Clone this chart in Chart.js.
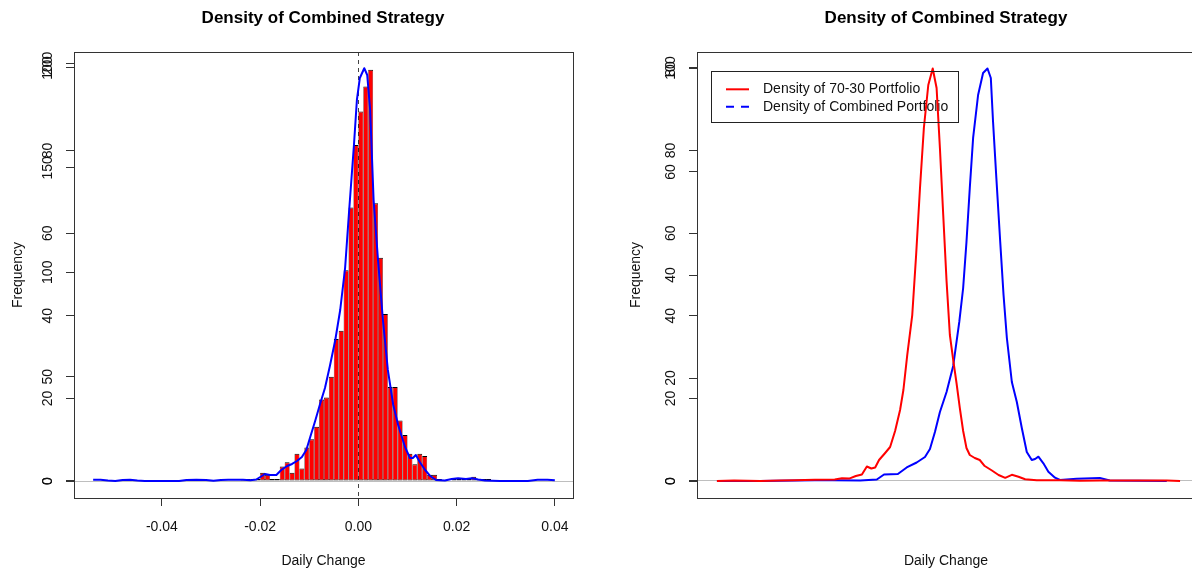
<!DOCTYPE html>
<html><head><meta charset="utf-8">
<script src="https://cdn.jsdelivr.net/npm/chart.js@4.4.1/dist/chart.umd.min.js"></script>
<style>
html,body{margin:0;padding:0;background:#fff;overflow:hidden;width:1192px;height:573px;position:relative}
canvas{position:absolute;top:0}
#cl{left:0;width:646px;height:573px}
#cr{left:596px;width:700px;height:573px}
</style></head><body>
<canvas id="cl" width="646" height="573"></canvas>
<canvas id="cr" width="700" height="573"></canvas>
<script>
// ---------- data ----------
const chartTitle = 'Density of Combined Strategy';
const xTitle = 'Daily Change';
const yTitle = 'Frequency';
const legendLabels = ['Density of 70-30 Portfolio', 'Density of Combined Portfolio'];

const xTickValues = [-0.04, -0.02, 0, 0.02, 0.04];
const countTicks = [0, 50, 100, 150, 200];
const densityTicks = [0, 20, 40, 60, 80, 100];
const portfolioTicks = [0, 20, 40, 60, 80];

// histogram: bin centres (bin width 0.001) and counts
const histBinCenters = [-0.0235,-0.0225,-0.0215,-0.0205,-0.0195,-0.0185,-0.0175,-0.0165,-0.0155,-0.0145,-0.0135,-0.0125,-0.0115,-0.0105,-0.0095,-0.0085,-0.0075,-0.0065,-0.0055,-0.0045,-0.0035,-0.0025,-0.0015,-0.0005,0.0005,0.0015,0.0025,0.0035,0.0045,0.0055,0.0065,0.0075,0.0085,0.0095,0.0105,0.0115,0.0125,0.0135,0.0145,0.0155,0.0165,0.0195,0.0205,0.0215,0.0225,0.0235,0.0245,0.0255,0.0265];
const histCounts = [1,1,1,1,4,3,1,1,7,9,4,13,6,16,20,26,39,40,50,68,72,101,131,161,177,189,197,133,107,80,45,45,29,22,13,8,13,12,3,3,1,1,1,1,1,2,1,1,1];

// density of combined strategy (left panel)
const leftDensX = [-0.0540,-0.0525,-0.0510,-0.0495,-0.0480,-0.0465,-0.0450,-0.0435,-0.0365,-0.0350,-0.0330,-0.0310,-0.0295,-0.0280,-0.0265,-0.0250,-0.0235,-0.0220,-0.0208,-0.0198,-0.0190,-0.0180,-0.0167,-0.0157,-0.0145,-0.0135,-0.0125,-0.0115,-0.0106,-0.0098,-0.0088,-0.0078,-0.0068,-0.0058,-0.0047,-0.0037,-0.0027,-0.0019,-0.0009,-0.0003,0.0003,0.0012,0.0018,0.0024,0.0031,0.0040,0.0050,0.0060,0.0071,0.0081,0.0095,0.0105,0.0111,0.0117,0.0125,0.0136,0.0146,0.0158,0.0176,0.0190,0.0203,0.0219,0.0231,0.0244,0.0258,0.0288,0.0345,0.0365,0.0385,0.0400];
const leftDensY = [0.3,0.3,0.1,0,0.25,0.3,0.1,0,0,0.25,0.3,0.25,0.05,0.25,0.3,0.3,0.3,0.2,0.36,1.09,1.69,1.45,1.45,2.66,3.63,4.12,4.84,5.81,7.51,10.65,14.53,18.64,22.52,27.85,34.14,41.4,51.57,65.13,81.36,92.25,97.58,99.93,98.3,89.83,68.04,53.51,38.98,26.88,18.4,13.56,8.23,5.57,5.57,6.3,4.6,2.66,1.21,0.24,0.1,0.5,0.65,0.5,0.65,0.36,0.1,0,0,0.3,0.3,0.2];

// right panel: 70-30 portfolio density (red) and combined portfolio density (blue)
const redX = [-0.0414,-0.0383,-0.0336,-0.0300,-0.0273,-0.0237,-0.0201,-0.0188,-0.0175,-0.0163,-0.0152,-0.0143,-0.0135,-0.0128,-0.0121,-0.0110,-0.0101,-0.0092,-0.0083,-0.0077,-0.0070,-0.0061,-0.0054,-0.0047,-0.0040,-0.0032,-0.0024,-0.0017,-0.0011,-0.0005,0.0001,0.0007,0.0013,0.0019,0.0025,0.0031,0.0037,0.0043,0.0052,0.0061,0.0070,0.0083,0.0095,0.0107,0.0119,0.0131,0.0143,0.0164,0.0206,0.0242,0.0278,0.0365,0.0399,0.0423];
const redY = [0,0.1,0,0.1,0.13,0.23,0.29,0.54,0.47,0.97,1.26,2.82,2.43,2.62,4.08,5.44,6.6,9.71,13.79,17.67,24.47,32.23,43.88,56.89,68.54,76.89,80.1,76.3,64.66,51.65,38.83,28.35,23.5,19.03,14.17,9.71,6.41,5.05,4.47,4.08,2.91,2.04,1.17,0.62,1.2,0.83,0.33,0.13,0.13,0.04,0.1,0.1,0.1,0];
const blueX = [-0.0414,-0.0336,-0.0237,-0.0206,-0.0155,-0.0125,-0.0112,-0.0087,-0.0071,-0.0053,-0.0038,-0.0029,-0.0020,-0.0011,0.0001,0.0013,0.0024,0.0031,0.0037,0.0043,0.0049,0.0058,0.0067,0.0075,0.0081,0.0085,0.0091,0.0098,0.0104,0.0110,0.0119,0.0128,0.0137,0.0146,0.0155,0.0161,0.0167,0.0176,0.0185,0.0197,0.0206,0.0236,0.0278,0.0296,0.0399];
const blueY = [0,0,0.17,0.17,0.12,0.36,1.57,1.69,3.27,4.48,5.81,7.75,11.86,16.71,21.55,27.85,38.5,46.73,57.87,70.94,83.05,93.46,98.79,99.88,97.58,87.05,73.37,57.87,45.04,34.62,23.97,19.13,12.83,7.02,5.08,5.33,5.88,4.28,2.25,0.8,0.24,0.56,0.73,0.12,0];

// ---------- helpers ----------
const FONT = "'Liberation Sans', Arial, Helvetica, sans-serif";
Chart.defaults.font.family = FONT;
Chart.defaults.font.size = 14;
Chart.defaults.color = '#111';

const pts = (xs, ys) => xs.map((x, i) => ({x, y: ys[i]}));

function makeOverlay(main, other) {
  return {
    id: 'overlay_' + other,
    afterLayout(chart) {
      const a = chart.scales[main], b = chart.scales[other];
      b.left = a.left; b.right = a.right; b.width = a.width;
    }
  };
}
const frameBox = {
  id: 'frameBox',
  afterDraw(chart) {
    const {ctx, chartArea: a} = chart;
    ctx.save();
    ctx.strokeStyle = '#333';
    ctx.lineWidth = 1;
    ctx.strokeRect(a.left + 0.5, a.top + 0.5, a.right - a.left, a.bottom - a.top);
    ctx.restore();
  }
};

function yAxis(o) {
  return {
    type: 'linear', position: 'left', min: o.min, max: o.max, bounds: 'data',
    afterBuildTicks: s => { s.ticks = o.ticks.map(v => ({value: v})); },
    afterFit: s => { s.width = o.width; },
    ticks: { autoSkip: false, minRotation: 90, maxRotation: 90, crossAlign: 'center',
             padding: o.pad, color: '#111', font: {size: 14}, callback: v => String(v) },
    grid: { drawOnChartArea: !!o.zeroLine,
            color: c => (c.tick && c.tick.value === 0) ? '#bebebe' : 'rgba(0,0,0,0)',
            tickColor: '#333', tickLength: 8, lineWidth: 1, tickWidth: 1 },
    border: { display: false },
    title: o.title ? { display: true, text: o.title, color: '#111', font: {size: 14},
                       padding: {top: o.titlePad, bottom: 0} } : { display: false }
  };
}
// invisible right-hand spacer axis (keeps the title centred on the full canvas)
function spacerAxis(w) {
  return {
    type: 'linear', position: 'right', min: 0, max: 1, display: true,
    afterFit: s => { s.width = w; },
    ticks: { display: false }, grid: { display: false }, border: { display: false }
  };
}
const titleOpts = { display: true, text: chartTitle, color: '#000',
  font: {size: 17, weight: 'bold'}, padding: {top: 8.5, bottom: 23.1} };

// ---------- left chart ----------
new Chart(document.getElementById('cl'), {
  type: 'bar',
  data: {
    datasets: [
      { type: 'line', label: 'Density', data: pts(leftDensX, leftDensY), yAxisID: 'yd', xAxisID: 'x',
        borderColor: '#0000ff', borderWidth: 2, pointRadius: 0, tension: 0, order: 0,
        borderJoinStyle: 'round' },
      { type: 'bar', label: 'Frequency', data: pts(histBinCenters, histCounts), yAxisID: 'yc', xAxisID: 'x',
        backgroundColor: '#ff0000', borderColor: '#000', borderSkipped: false,
        borderWidth: {top: 1, left: 0.5, right: 0.5, bottom: 1}, inflateAmount: 0,
        barPercentage: 1, categoryPercentage: 1, order: 1 }
    ]
  },
  options: {
    responsive: false, animation: false, devicePixelRatio: 1,
    layout: { padding: 0 },
    plugins: { legend: {display: false}, tooltip: {enabled: false}, title: titleOpts },
    scales: {
      x: {
        type: 'linear', min: -0.0579, max: 0.0437, bounds: 'data', offset: false,
        afterBuildTicks: s => { s.ticks = xTickValues.map(v => ({value: v})); },
        afterFit: s => { s.height = 75; },
        ticks: { autoSkip: false, maxRotation: 0, padding: 12.5, color: '#111', font: {size: 14},
                 callback: v => Number(v).toFixed(2) },
        grid: { offset: false, drawOnChartArea: true,
                color: c => (c.tick && c.tick.value === 0) ? '#444' : 'rgba(0,0,0,0)',
                tickColor: '#333', tickLength: 8, tickBorderDash: [], lineWidth: 1 },
        border: { display: false, dash: [4, 4] },
        title: { display: true, text: xTitle, color: '#111', font: {size: 14}, padding: {top: 0, bottom: 3.8} }
      },
      yc: yAxis({min: -8.14, max: 205.5, ticks: countTicks, width: 74, pad: 6, zeroLine: true, title: yTitle, titlePad: 9.5}),
      yd: yAxis({min: -4.12, max: 103.87, ticks: densityTicks, width: 0, pad: 6}),
      spacer: spacerAxis(73)
    }
  },
  plugins: [makeOverlay('yc', 'yd'), frameBox]
});

// ---------- right chart ----------
function swatch(color, dash) {
  const c = document.createElement('canvas');
  c.width = 30; c.height = 4;
  const g = c.getContext('2d');
  g.strokeStyle = color; g.lineWidth = 2; g.setLineDash(dash);
  g.beginPath(); g.moveTo(0, 2); g.lineTo(23, 2); g.stroke();
  return c;
}
const legendPlace = {
  id: 'legendPlace',
  afterLayout(chart) {
    const lg = chart.legend, a = chart.chartArea;
    const L = a.left + 25.6, T = a.top + 26.9;
    lg.left = L; lg.top = T; lg.right = L + lg.width; lg.bottom = T + lg.height;
  },
  afterDraw(chart) {
    const hb = chart.legend.legendHitBoxes;
    if (!hb || !hb.length) return;
    const left = hb[0].left - 15;
    const top = hb[0].top - 11.3;
    let right = 0;
    hb.forEach(h => { right = Math.max(right, h.left + h.width); });
    right += 9.5;
    const last = hb[hb.length - 1];
    const bottom = last.top + last.height + 8.3;
    const ctx = chart.ctx;
    ctx.save();
    ctx.strokeStyle = '#222'; ctx.lineWidth = 1;
    ctx.strokeRect(Math.round(left) + 0.5, Math.round(top) + 0.5, Math.round(right - left), Math.round(bottom - top));
    ctx.restore();
  }
};

new Chart(document.getElementById('cr'), {
  type: 'line',
  data: {
    datasets: [
      { label: legendLabels[0], data: pts(redX, redY), yAxisID: 'yb', xAxisID: 'x',
        borderColor: '#ff0000', borderWidth: 2, pointRadius: 0, tension: 0,
        pointStyle: swatch('#ff0000', []), borderJoinStyle: 'round' },
      { label: legendLabels[1], data: pts(blueX, blueY), yAxisID: 'ya', xAxisID: 'x',
        borderColor: '#0000ff', borderWidth: 2, pointRadius: 0, tension: 0,
        pointStyle: swatch('#0000ff', [8, 7]), borderJoinStyle: 'round' }
    ]
  },
  options: {
    responsive: false, animation: false, devicePixelRatio: 1,
    layout: { padding: 0 },
    plugins: {
      tooltip: {enabled: false},
      title: titleOpts,
      legend: { display: true, position: 'chartArea', align: 'start',
        labels: { usePointStyle: true, pointStyleWidth: 30, boxHeight: 14, padding: 3.4,
                  color: '#111', font: {size: 14} } }
    },
    scales: {
      x: {
        type: 'linear', min: -0.045, max: 0.045, bounds: 'data',
        afterFit: s => { s.height = 75; },
        ticks: { display: false },
        grid: { display: false },
        border: { display: false },
        title: { display: true, text: xTitle, color: '#111', font: {size: 14}, padding: {top: 0, bottom: 3.8} }
      },
      ya: yAxis({min: -4.12, max: 103.87, ticks: densityTicks, width: 101, pad: 6, zeroLine: true, title: yTitle, titlePad: 32}),
      yb: yAxis({min: -3.30, max: 83.30, ticks: portfolioTicks, width: 0, pad: 9.9}),
      spacer: spacerAxis(101)
    }
  },
  plugins: [makeOverlay('ya', 'yb'), legendPlace, frameBox]
});
</script></body></html>
